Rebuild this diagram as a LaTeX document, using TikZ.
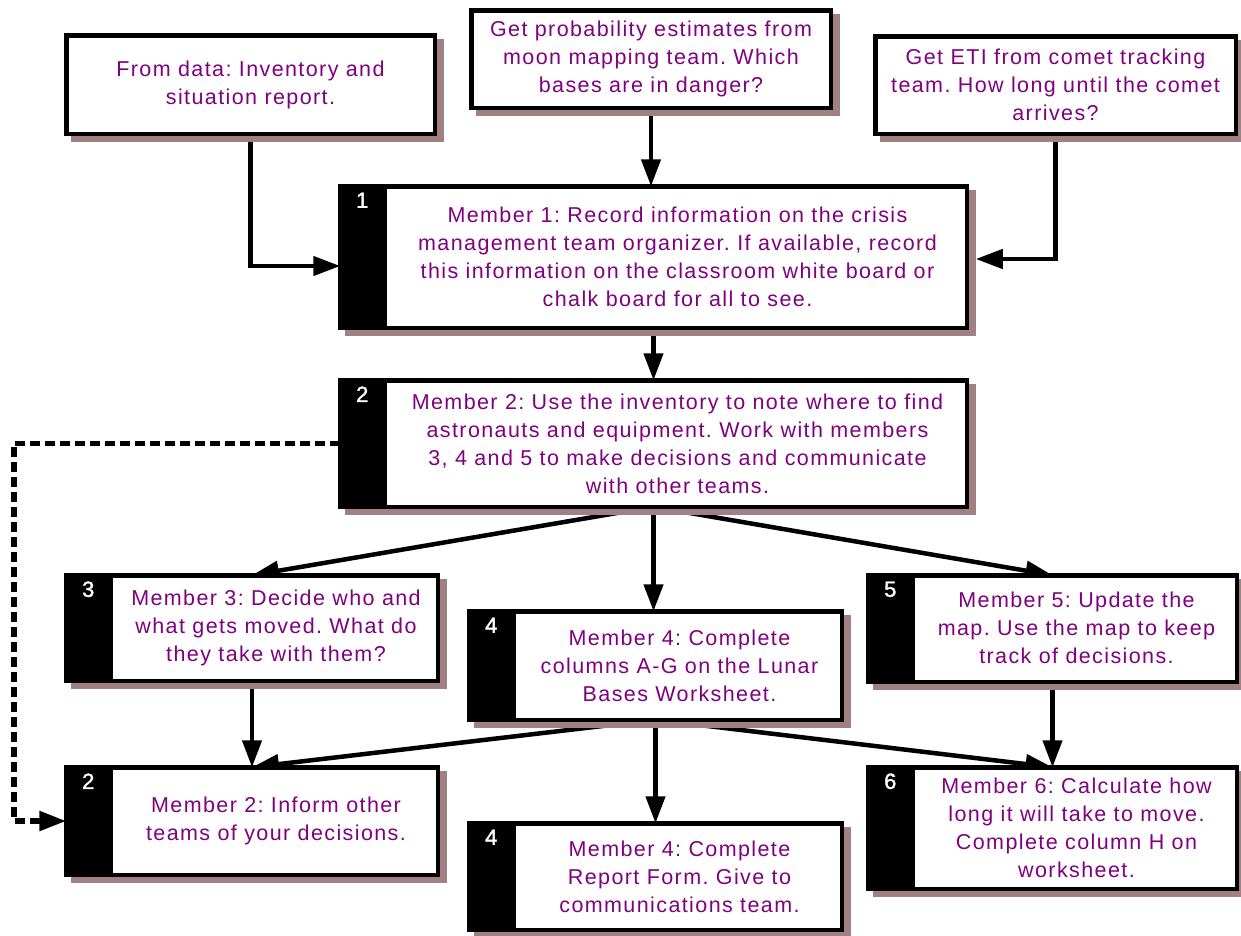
\documentclass[tikz,border=0pt]{standalone}
\usepackage{fontspec}
\setmainfont{Liberation Sans}[LetterSpace=6.5]
\newfontfamily\numfont{Liberation Sans}[FakeBold=1.5]
\usetikzlibrary{shadows,arrows.meta,backgrounds}
\definecolor{shadowc}{RGB}{160,128,128}
\definecolor{tpurple}{RGB}{128,0,128}
\frenchspacing
\begin{document}
\begin{tikzpicture}[x=1pt,y=-1pt,
 box/.style={draw=black, line width=4.5pt, fill=white, rectangle, inner sep=0pt, outer sep=0pt,
   general shadow={fill=shadowc, draw=shadowc, line width=4.5pt, shadow xshift=7pt, shadow yshift=-6pt}},
 numbox/.style={box, path picture={\fill[black] (path picture bounding box.north west) rectangle ([xshift=47pt]path picture bounding box.south west);}},
 txt/.style={text=tpurple, align=center, font=\fontsize{21.5}{28}\selectfont, inner sep=0pt},
 num/.style={text=white, font=\numfont\fontsize{22}{22}\selectfont, inner sep=0pt},
 conn/.style={line width=4.5pt, -{Triangle[length=27pt,width=19pt]}},
 dashconn/.style={conn, line width=5.5pt, dash pattern=on 10pt off 5pt},
]
\useasboundingbox (0,0) rectangle (1241,935);

% top boxes
\node[box, minimum width=368.5pt, minimum height=98.5pt] (A) at (250.5,84.5) {};
\node[txt] (tA) at (A.center) {From data: Inventory and\\situation report.};
\node[box, minimum width=359.5pt, minimum height=97.5pt] (B) at (651,59) {};
\node[txt] (tB) at (B.center) {Get probability estimates from\\moon mapping team. Which\\bases are in danger?};
\node[box, minimum width=360.5pt, minimum height=97.5pt] (C) at (1055.5,85) {};
\node[txt] (tC) at (C.center) {Get ETI from comet tracking\\team. How long until the comet\\arrives?};

% member boxes
\node[numbox, minimum width=626.5pt, minimum height=141.5pt] (b1) at (653.5,257) {};
\node[txt] (t1) at ([xshift=24pt]b1.center) {Member 1: Record information on the crisis\\management team organizer. If available, record\\this information on the classroom white board or\\chalk board for all to see.};
\node[num] (n1) at ([xshift=22pt,yshift=-14pt]b1.north west) {1};

\node[numbox, minimum width=626.5pt, minimum height=126.5pt] (b2) at (653.5,443.5) {};
\node[txt] (t2) at ([xshift=24pt]b2.center) {Member 2: Use the inventory to note where to find\\astronauts and equipment. Work with members\\3, 4 and 5 to make decisions and communicate\\with other teams.};
\node[num] (n2) at ([xshift=22pt,yshift=-14pt]b2.north west) {2};

\node[numbox, minimum width=371.5pt, minimum height=105.5pt] (b3) at (252,628) {};
\node[txt] (t3) at ([xshift=24pt]b3.center) {Member 3: Decide who and\\what gets moved. What do\\they take with them?};
\node[num] (n3) at ([xshift=22pt,yshift=-14pt]b3.north west) {3};

\node[numbox, minimum width=372.5pt, minimum height=108.5pt] (b4a) at (655.5,665.5) {};
\node[txt] (t4a) at ([xshift=24pt]b4a.center) {Member 4: Complete\\columns A-G on the Lunar\\Bases Worksheet.};
\node[num] (n4a) at ([xshift=22pt,yshift=-14pt]b4a.north west) {4};

\node[numbox, minimum width=368.5pt, minimum height=106.5pt] (b5) at (1052.5,628.5) {};
\node[txt] (t5) at ([xshift=24pt,yshift=1pt]b5.center) {Member 5: Update the\\map. Use the map to keep\\track of decisions.};
\node[num] (n5) at ([xshift=22pt,yshift=-14pt]b5.north west) {5};

\node[numbox, minimum width=371.5pt, minimum height=107.5pt] (b2b) at (252,821) {};
\node[txt] (t2b) at ([xshift=24pt]b2b.center) {Member 2: Inform other\\teams of your decisions.};
\node[num] (n2b) at ([xshift=22pt,yshift=-14pt]b2b.north west) {2};

\node[numbox, minimum width=372.5pt, minimum height=106.5pt] (b4b) at (655.5,876.5) {};
\node[txt] (t4b) at ([xshift=24pt]b4b.center) {Member 4: Complete\\Report Form. Give to\\communications team.};
\node[num] (n4b) at ([xshift=22pt,yshift=-14pt]b4b.north west) {4};

\node[numbox, minimum width=368.5pt, minimum height=121.5pt] (b6) at (1052.5,828) {};
\node[txt] (t6) at ([xshift=24pt]b6.center) {Member 6: Calculate how\\long it will take to move.\\Complete column H on\\worksheet.};
\node[num] (n6) at ([xshift=22pt,yshift=-14pt]b6.north west) {6};

\coordinate (dl) at (14,444);

\begin{scope}[on background layer]
\draw[conn] (A.south) |- ([yshift=-9pt]b1.west);
\draw[conn] (B.south) -- (B.south |- b1.north);
\draw[conn] (C.south) |- ([xshift=9pt,yshift=-2pt]b1.east);
\draw[conn] (b1.south) -- (b2.north);
\draw[conn] (b2.south) -- (b3.north);
\draw[conn] (b2.south) -- (b2.south |- b4a.north);
\draw[conn] (b2.south) -- (b5.north);
\draw[conn] (b3.south) -- (b2b.north);
\draw[conn] (b5.south) -- (b6.north);
\draw[conn] (b4a.south) -- (b2b.north);
\draw[conn] (b4a.south) -- (b4b.north);
\draw[conn] (b4a.south) -- (b6.north);
\draw[dashconn] (b2.west) -- (b2.west -| dl) |- (b2b.west);
\end{scope}
\end{tikzpicture}
\end{document}
